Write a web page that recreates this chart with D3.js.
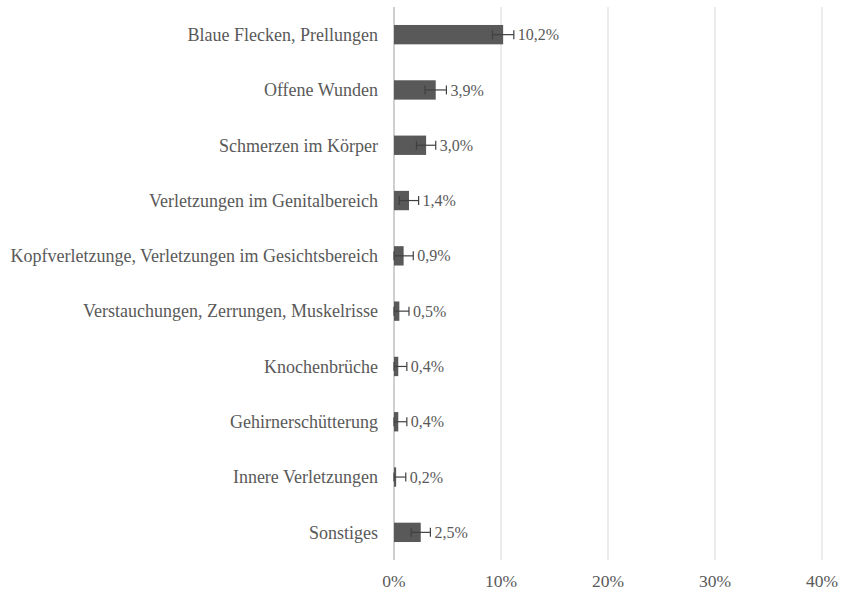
<!DOCTYPE html>
<html>
<head>
  <meta charset="utf-8">
  <title>Verletzungen</title>
  <script src="https://cdn.jsdelivr.net/npm/d3@7"></script>
  <style>
    body { margin: 0; background: #fff; }
  </style>
</head>
<body>
  <div id="chart"></div>
  <script>
    // data
    const categories = [
      "Blaue Flecken, Prellungen",
      "Offene Wunden",
      "Schmerzen im Körper",
      "Verletzungen im Genitalbereich",
      "Kopfverletzunge, Verletzungen im Gesichtsbereich",
      "Verstauchungen, Zerrungen, Muskelrisse",
      "Knochenbrüche",
      "Gehirnerschütterung",
      "Innere Verletzungen",
      "Sonstiges"
    ];
    const values = [10.2, 3.9, 3.0, 1.4, 0.9, 0.5, 0.4, 0.4, 0.2, 2.5];
    const errors = [1.0, 1.0, 0.9, 0.9, 0.9, 0.9, 0.8, 0.8, 0.9, 0.9];
    const ticks = [0, 10, 20, 30, 40];

    const width = 844, height = 591;
    const margin = { top: 7, right: 22, bottom: 31, left: 394 };
    const font = "'Liberation Serif', 'Times New Roman', serif";

    const svg = d3.select("#chart").append("svg")
        .attr("width", width)
        .attr("height", height)
        .attr("font-family", font);

    const x = d3.scaleLinear()
        .domain([0, 40])
        .range([margin.left, width - margin.right]);

    const y = d3.scaleBand()
        .domain(categories)
        .range([margin.top, height - margin.bottom])
        .paddingInner(0.65)
        .paddingOuter(0.325);

    const fmt = v => d3.format(".1f")(v).replace(".", ",") + "%";

    // vertical gridlines
    svg.append("g")
      .selectAll("line")
      .data(ticks)
      .enter().append("line")
        .attr("x1", d => x(d)).attr("x2", d => x(d))
        .attr("y1", margin.top).attr("y2", height - margin.bottom)
        .attr("stroke", d => d === 0 ? "#bfbfbf" : "#d9d9d9")
        .attr("stroke-width", d => d === 0 ? 1.5 : 1);

    // x axis labels
    svg.append("g")
      .selectAll("text")
      .data(ticks)
      .enter().append("text")
        .attr("x", d => x(d))
        .attr("y", 587)
        .attr("text-anchor", "middle")
        .attr("font-size", 17.5)
        .attr("fill", "#595959")
        .text(d => d + "%");

    // bars
    svg.selectAll(".bar")
      .data(values)
      .enter().append("rect")
        .attr("class", "bar")
        .attr("x", x(0))
        .attr("y", (d, i) => y(categories[i]))
        .attr("width", d => x(d) - x(0))
        .attr("height", y.bandwidth())
        .attr("fill", "#595959");

    // error bars
    const cy = i => y(categories[i]) + y.bandwidth() / 2;
    const lo = (d, i) => x(Math.max(0, d - errors[i]));
    const hi = (d, i) => x(d + errors[i]);
    const eb = svg.selectAll(".err")
      .data(values)
      .enter().append("g")
        .attr("class", "err")
        .attr("stroke", "#404040")
        .attr("stroke-width", 1.2);
    eb.append("line")
        .attr("x1", lo).attr("x2", hi)
        .attr("y1", (d, i) => cy(i)).attr("y2", (d, i) => cy(i));
    eb.append("line")
        .attr("x1", hi).attr("x2", hi)
        .attr("y1", (d, i) => cy(i) - 4.5).attr("y2", (d, i) => cy(i) + 4.5);
    eb.append("line")
        .attr("x1", lo).attr("x2", lo)
        .attr("y1", (d, i) => cy(i) - 4.5).attr("y2", (d, i) => cy(i) + 4.5);

    // value labels
    svg.selectAll(".val")
      .data(values)
      .enter().append("text")
        .attr("class", "val")
        .attr("x", (d, i) => hi(d, i) + 4)
        .attr("y", (d, i) => cy(i))
        .attr("dy", "0.35em")
        .attr("font-size", 16)
        .attr("fill", "#595959")
        .text(d => fmt(d));

    // category labels
    svg.selectAll(".cat")
      .data(categories)
      .enter().append("text")
        .attr("class", "cat")
        .attr("x", 378)
        .attr("y", d => y(d) + y.bandwidth() / 2)
        .attr("dy", "0.35em")
        .attr("text-anchor", "end")
        .attr("font-size", 18)
        .attr("fill", "#595959")
        .text(d => d);
  </script>
</body>
</html>
